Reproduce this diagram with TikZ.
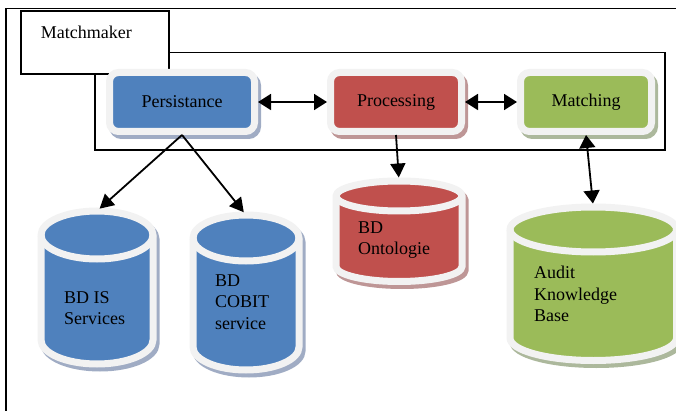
\documentclass[tikz,border=0pt]{standalone}
\usepackage{fontspec}
\setmainfont{Liberation Serif}
\usetikzlibrary{arrows.meta,shadows}
\definecolor{dbblue}{RGB}{79,129,189}
\definecolor{dbred}{RGB}{192,80,77}
\definecolor{dbgreen}{RGB}{155,187,89}
\definecolor{rim}{RGB}{242,242,242}
\definecolor{shblue}{RGB}{160,172,196}
\definecolor{shred}{RGB}{190,150,150}
\definecolor{shgreen}{RGB}{172,184,156}
\tikzset{
    frame/.style={draw=black, line width=1.6pt},
    module/.style={draw=rim, line width=7pt, rounded corners=9pt, minimum height=59pt, inner sep=0pt},
    dbslot/.style={inner sep=0pt, outer sep=0pt},
    rimshadow/.style={drop shadow={shadow xshift=3pt, shadow yshift=-4pt, opacity=1, fill=#1, draw=#1, line width=7pt}},
    dbtext/.style={anchor=west, align=left, inner sep=0pt},
    link/.style={line width=1.8pt, -{Triangle[length=14pt,width=15pt]}},
    twoway/.style={line width=1.8pt, {Triangle[length=13pt,width=16pt]}-{Triangle[length=13pt,width=16pt]}},
}
% cylinder drawn round a slot node: name, x radius, y radius, fill, shadow
\newcommand{\dbcyl}[5]{%
	\filldraw[fill=#5, draw=#5, line width=7pt, transform canvas={shift={(3pt,-4pt)}}]
		([yshift=-#3]#1.north west) arc[start angle=180, end angle=0, x radius=#2, y radius=#3]
		-- ([yshift=#3]#1.south east) arc[start angle=0, end angle=-180, x radius=#2, y radius=#3] -- cycle;
	\filldraw[fill=#4, draw=rim, line width=7pt]
		([yshift=-#3]#1.north west) arc[start angle=180, end angle=0, x radius=#2, y radius=#3]
		-- ([yshift=#3]#1.south east) arc[start angle=0, end angle=-180, x radius=#2, y radius=#3] -- cycle;
	\draw[rim, line width=7pt]
		([yshift=-#3]#1.north west) arc[start angle=180, end angle=360, x radius=#2, y radius=#3];
}
\begin{document}
\begin{tikzpicture}[x=1pt,y=-1pt,font=\fontsize{18}{21.5}\selectfont]
	\useasboundingbox (0,0) rectangle (676,411);
	\draw[frame] (6,411) -- (6,8.5) -- (676,8.5);
	\draw[frame] (95,52.7) rectangle (665,150);
	\node[frame, fill=white, anchor=north west, minimum width=148pt, minimum height=63pt,
		inner xsep=20pt, inner ysep=9pt, text width=108pt, align=left, text height=19pt, text depth=26pt] (mm) at (20,10) {Matchmaker};
	\node[module, rimshadow=shblue, fill=dbblue, minimum width=145pt] (per) at (182,102) {Persistance\hspace{10pt}};
	\node[module, rimshadow=shred, fill=dbred, minimum width=131pt] (proc) at (396,102) {Processing};
	\node[module, rimshadow=shgreen, fill=dbgreen, minimum width=131pt] (match) at (586,102) {Matching\hspace{10pt}};
	\node[dbslot, minimum width=112pt, minimum height=153pt] (isdb) at (97,287.5) {};
	\node[dbslot, minimum width=106pt, minimum height=155pt] (cobit) at (246,292.5) {};
	\node[dbslot, minimum width=126pt, minimum height=100.5pt] (onto) at (399,231.25) {};
	\node[dbslot, minimum width=166.5pt, minimum height=153.5pt] (kb) at (593.25,283.75) {};
	\dbcyl{isdb}{56pt}{24pt}{dbblue}{shblue}
	\dbcyl{cobit}{53pt}{23pt}{dbblue}{shblue}
	\dbcyl{onto}{63pt}{15pt}{dbred}{shred}
	\dbcyl{kb}{83.25pt}{22.5pt}{dbgreen}{shgreen}
	\node[dbtext] (isdbtext) at (64,308) {BD IS\\Services};
	\node[dbtext] (cobittext) at (215,302) {BD\\COBIT\\service};
	\node[dbtext] (ontotext) at (358,240) {BD\\Ontologie};
	\node[dbtext] (kbtext) at (534,294) {Audit\\Knowledge\\Base};
	\draw[twoway] (per) -- (proc);
	\draw[twoway] (proc) -- (match);
	\draw[link, shorten >=3.5pt] (per.south) -- (isdb.north);
	\draw[link, shorten >=3.5pt] (per.south) -- (cobit.north);
	\draw[link, shorten >=3.5pt] (proc.south) -- (onto.north);
	\draw[twoway, shorten >=3.5pt] (match.south) -- (kb.north);
\end{tikzpicture}
\end{document}
